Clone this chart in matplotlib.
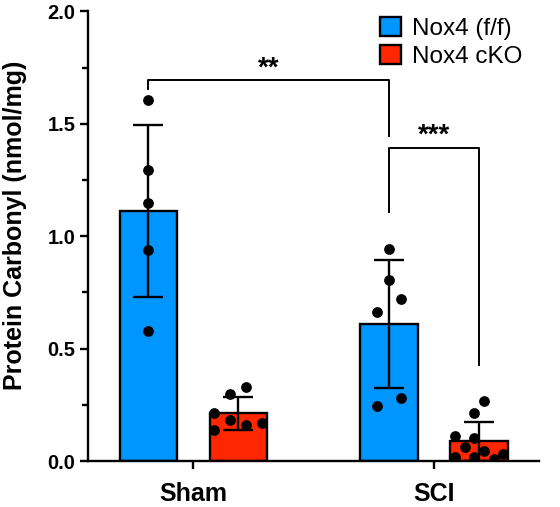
import numpy as np
import matplotlib
matplotlib.use("Agg")
import matplotlib.pyplot as plt
from matplotlib.patches import Patch

plt.rcParams['font.family'] = ['Liberation Sans', 'DejaVu Sans']

# data
groups = ['Sham', 'SCI']
series = ['Nox4 (f/f)', 'Nox4 cKO']
colors = ['#0096FF', '#FF2600']

sham_ff = [1.604, 1.293, 1.147, 0.938, 0.578]
sham_cko = [0.215, 0.296, 0.330, 0.139, 0.181, 0.159, 0.169]
sci_ff = [0.945, 0.806, 0.719, 0.664, 0.279, 0.243]
sci_cko = [0.267, 0.213, 0.110, 0.102, 0.061, 0.044, 0.030, 0.019, 0.019, 0.009]

# horizontal scatter of the dots inside each bar
sham_ff_jit = [0, 0, 0, 0, 0]
sham_cko_jit = [-0.1, -0.033, 0.033, -0.1, -0.033, 0.033, 0.1]
sci_ff_jit = [0, 0, 0.05, -0.05, 0.05, -0.05]
sci_cko_jit = [0.02, -0.022, -0.1, -0.022, -0.06, 0.02, 0.098, -0.1, -0.022, 0.06]

data = [[sham_ff, sham_cko], [sci_ff, sci_cko]]
jit = [[sham_ff_jit, sham_cko_jit], [sci_ff_jit, sci_cko_jit]]

fig = plt.figure(figsize=(5.6, 5.07), dpi=100)
ax = fig.add_axes([0.158, 0.0907, 0.805, 0.887])

off = 0.187
w = 0.238
lw = 1.7
for gi, g in enumerate(groups):
    for si in range(2):
        vals = np.array(data[gi][si])
        x = gi + (si * 2 - 1) * off
        m = vals.mean()
        sd = vals.std(ddof=1)
        ax.bar(x, m, width=w, color=colors[si], edgecolor='black', linewidth=lw, zorder=2)
        ax.errorbar(x, m, yerr=sd, color='black', capsize=11, elinewidth=lw,
                    capthick=lw, zorder=3)
        ax.scatter(x + np.array(jit[gi][si]), vals, s=60, color='black', zorder=4,
                   linewidths=0)

# significance brackets
xs = [0 - off, 1 - off, 1 + off]
ax.plot([xs[0], xs[0], xs[1], xs[1]], [1.653, 1.695, 1.695, 1.444], color='black',
        lw=1.4, zorder=3)
ax.text((xs[0] + xs[1]) / 2, 1.745, '**', ha='center', va='center',
        fontsize=20, fontweight='bold')
ax.plot([xs[1], xs[1], xs[2], xs[2]], [1.108, 1.392, 1.392, 0.427], color='black',
        lw=1.4, zorder=3)
ax.text((xs[1] + xs[2]) / 2, 1.445, '***', ha='center', va='center',
        fontsize=20, fontweight='bold')

ax.set_xlim(-0.436, 1.437)
ax.set_ylim(0, 2.0)
ax.set_xticks([0, 1])
ax.set_xticklabels(groups, fontsize=18, fontweight='bold')
ax.set_yticks([0, 0.5, 1.0, 1.5, 2.0])
ax.set_yticklabels(['0.0', '0.5', '1.0', '1.5', '2.0'], fontsize=14.5, fontweight='bold')
ax.set_yticks([0.25, 0.75, 1.25, 1.75], minor=True)
ax.tick_params(axis='both', which='major', width=lw, length=6)
ax.tick_params(axis='y', which='minor', width=lw, length=4)
ax.tick_params(axis='x', pad=9)
ax.set_ylabel('Protein Carbonyl (nmol/mg)', fontsize=18, fontweight='bold')
ax.yaxis.set_label_coords(-0.137, 0.525)
for s in ['top', 'right']:
    ax.spines[s].set_visible(False)
for s in ['left', 'bottom']:
    ax.spines[s].set_linewidth(lw)

handles = [Patch(facecolor=c, edgecolor='black', linewidth=lw) for c in colors]
ax.legend(handles, series, loc='upper right', bbox_to_anchor=(1.0, 1.025), frameon=False,
          fontsize=17.5, handlelength=0.85, handleheight=0.85, handletextpad=0.45,
          labelspacing=0.2, borderaxespad=0.3)

fig.savefig('out.png', dpi=100)
